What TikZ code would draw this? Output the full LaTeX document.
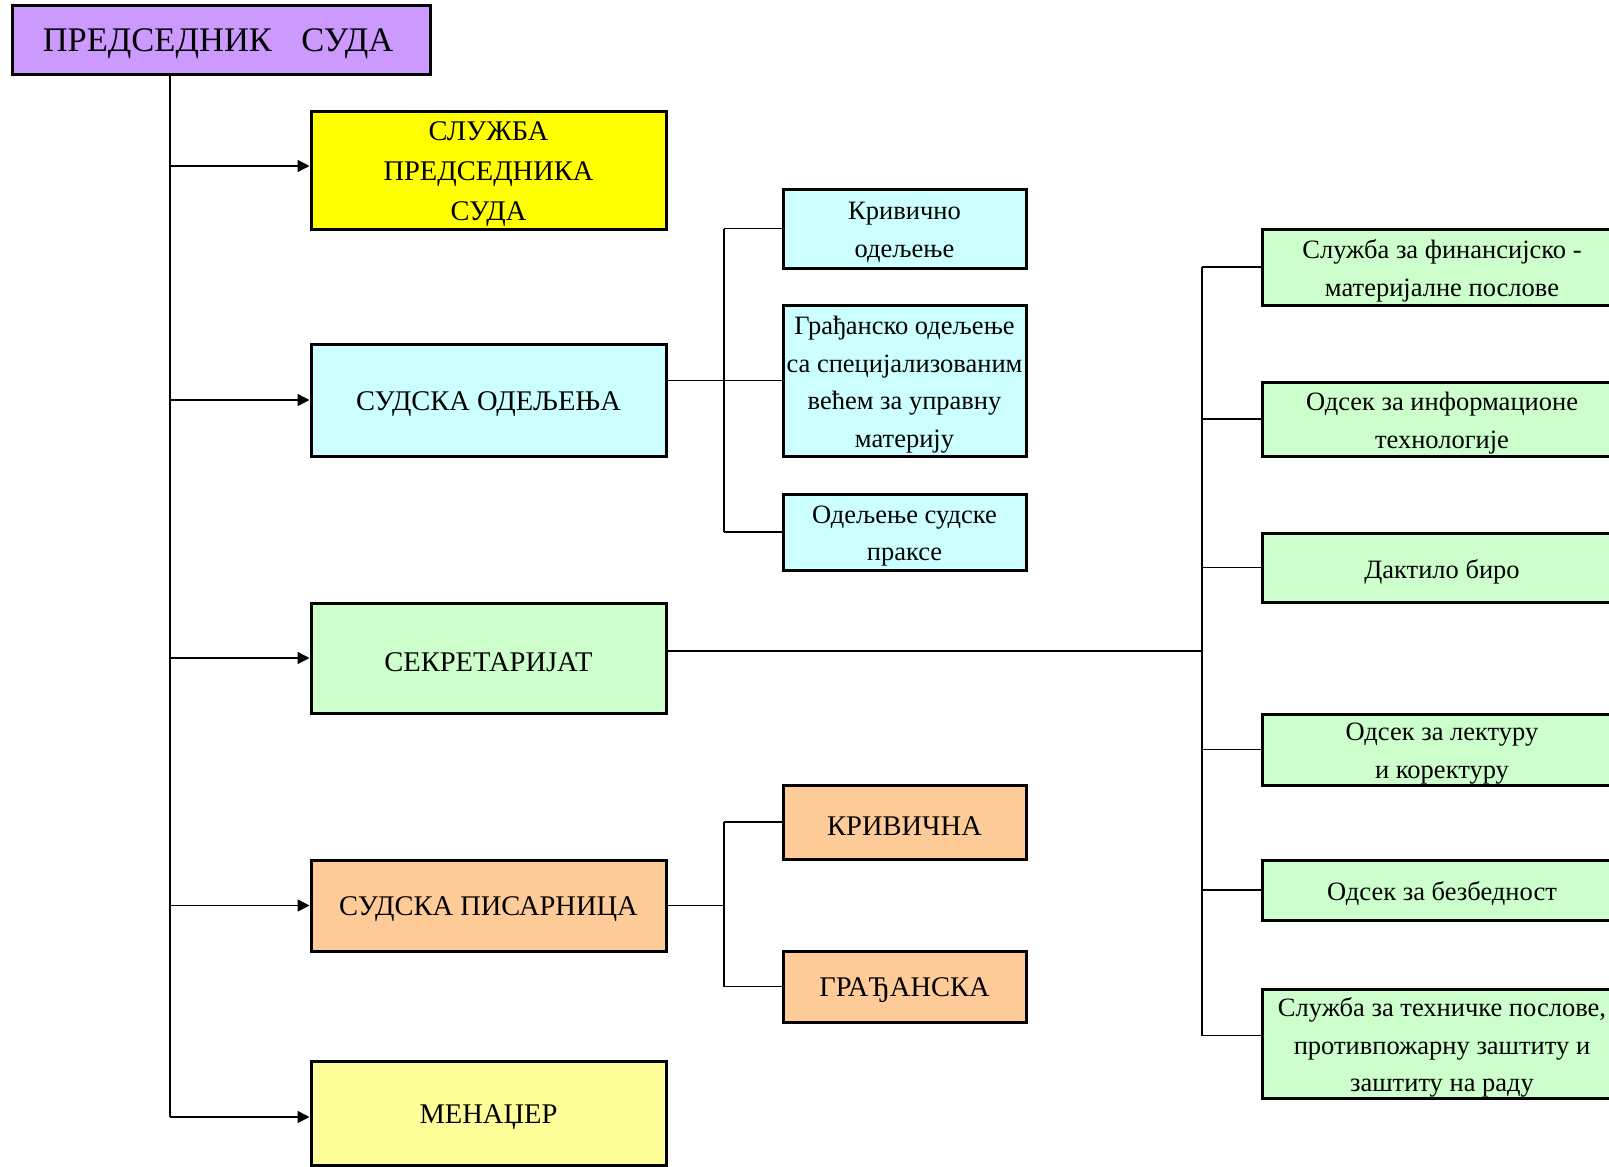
\documentclass[tikz,border=0pt]{standalone}
\usepackage{fontspec}
\setmainfont{Liberation Serif}
\usetikzlibrary{arrows.meta,calc}
\definecolor{cpurple}{RGB}{204,153,255}
\definecolor{cyellow}{RGB}{255,255,0}
\definecolor{ccyan}{RGB}{204,255,255}
\definecolor{cgreen}{RGB}{204,255,204}
\definecolor{corange}{RGB}{255,204,153}
\definecolor{clyellow}{RGB}{255,255,153}
% #1 name, #2 fill, #3 font style, #4 x, #5 y, #6 w, #7 h, #8 text
\newcommand\mkbox[8]{%
  \node[box,fill=#2,minimum width=#6pt,minimum height=#7pt] (#1) at (#4,#5) {};
  \node[txt,#3] (#1-t) at ([yshift=-4pt]#1.center) {#8};}
\begin{document}
\begin{tikzpicture}[x=1pt,y=-1pt,
  box/.style={draw=black,line width=3pt,rectangle,inner sep=0pt},
  txt/.style={inner sep=0pt,align=center},
  bigf/.style={font=\fontsize{28.5}{40}\selectfont},
  smallf/.style={font=\fontsize{26.5}{37.5}\selectfont},
  presf/.style={font=\fontsize{34.5}{40}\selectfont},
  conn/.style={line width=1.7pt},
  arr/.style={conn,-{Triangle[length=12pt,width=12pt]}}]
\path[use as bounding box,clip] (0,0) rectangle (1609,1167);
\fill[white] (0,0) rectangle (1609,1167);

% president
\mkbox{pres}{cpurple}{presf,xshift=-3pt}{221}{40}{418}{69}{ПРЕДСЕДНИК\hspace{0.6em} СУДА}

% left column
\mkbox{s1}{cyellow}{bigf}{488.5}{170}{355}{118}{СЛУЖБА\\ПРЕДСЕДНИКА\\СУДА}
\mkbox{so}{ccyan}{bigf}{488.5}{400}{355}{112}{СУДСКА ОДЕЉЕЊА}
\mkbox{sek}{cgreen}{bigf}{488.5}{658}{355}{110}{СЕКРЕТАРИЈАТ}
\mkbox{pis}{corange}{bigf}{488.5}{905.5}{355}{91}{СУДСКА ПИСАРНИЦА}
\mkbox{men}{clyellow}{bigf}{488.5}{1113}{355}{104}{МЕНАЏЕР}

% middle column
\mkbox{kr}{ccyan}{smallf}{904.5}{228.5}{243}{79}{Кривично\\одељење}
\mkbox{gr}{ccyan}{smallf}{904.5}{380.5}{243}{151}{Грађанско одељење\\са специјализованим\\већем за управну\\материју}
\mkbox{pr}{ccyan}{smallf}{904.5}{532}{243}{76}{Одељење судске\\праксе}
\mkbox{kri}{corange}{bigf}{904.5}{822}{243}{74}{КРИВИЧНА}
\mkbox{gra}{corange}{bigf}{904.5}{986.5}{243}{71}{ГРАЂАНСКА}

% right column
\mkbox{r1}{cgreen}{smallf}{1442}{267}{360}{76}{Служба за финансијско -\\материјалне послове}
\mkbox{r2}{cgreen}{smallf}{1442}{419}{360}{74}{Одсек за информационе\\технологије}
\mkbox{r3}{cgreen}{smallf}{1442}{567.5}{360}{69}{Дактило биро}
\mkbox{r4}{cgreen}{smallf}{1442}{749.5}{360}{71}{Одсек за лектуру\\и коректуру}
\mkbox{r5}{cgreen}{smallf}{1442}{890}{360}{60}{Одсек за безбедност}
\mkbox{r6}{cgreen}{smallf}{1442}{1043.5}{360}{109}{Служба за техничке послове,\\противпожарну заштиту и\\заштиту на раду}

% connectors from the president
\coordinate (trunk) at (170,0);
\coordinate (s1c) at ($(s1.west)+(0,-4)$);
\coordinate (menc) at ($(men.west)+(0,4)$);
\draw[conn] (pres.south -| trunk) -- (menc -| trunk);
\draw[arr] (s1c -| trunk) -- (s1c);
\foreach \n in {so,sek,pis} \draw[arr] (\n.west -| trunk) -- (\n.west);
\draw[arr] (menc -| trunk) -- (menc);

% court departments
\coordinate (mx) at (724,0);
\draw[conn] (kr.west -| mx) -- (pr.west -| mx);
\foreach \n in {kr,gr,pr} \draw[conn] (\n.west -| mx) -- (\n.west);
\draw[conn] (so.east |- gr.west) -- (gr.west -| mx);

% registry
\draw[conn] (kri.west -| mx) -- (gra.west -| mx);
\foreach \n in {kri,gra} \draw[conn] (\n.west -| mx) -- (\n.west);
\draw[conn] (pis.east) -- (pis.east -| mx);

% secretariat
\coordinate (rx) at (1202,0);
\coordinate (r6c) at ($(r6.west)+(0,-8)$);
\draw[conn] (r1.west -| rx) -- (r6c -| rx);
\foreach \n in {r1,r2,r3,r4,r5} \draw[conn] (\n.west -| rx) -- (\n.west);
\draw[conn] (r6c -| rx) -- (r6c);
\coordinate (sekc) at ($(sek.east)+(0,-7)$);
\draw[conn] (sekc) -- (sekc -| rx);
\end{tikzpicture}
\end{document}
